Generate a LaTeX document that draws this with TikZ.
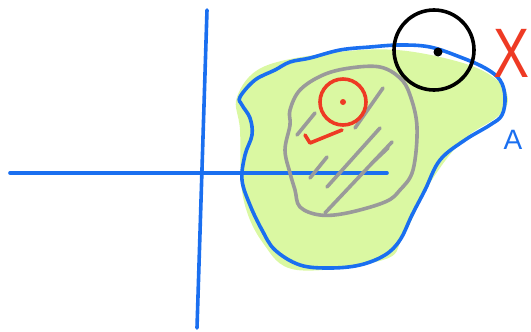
\documentclass[tikz,border=0pt]{standalone}
\usepackage{fontspec}
\usepackage{graphicx}
\setsansfont{Liberation Sans}
\definecolor{penblue}{HTML}{1A6FF0}
\definecolor{pengreen}{HTML}{DAF8A2}
\definecolor{penred}{HTML}{EE3A24}
\definecolor{pengray}{HTML}{9A9A9A}
\tikzset{
  pen/.style={line width=3.6pt, line cap=round, line join=round},
  bluepen/.style={pen, draw=penblue},
  graypen/.style={pen, draw=pengray},
  redpen/.style={pen, draw=penred},
  blackpen/.style={pen, draw=black},
}
\begin{document}
\begin{tikzpicture}[x=1pt,y=-1pt]
\useasboundingbox (0,0) rectangle (531,332);
% green fill
\fill[pengreen] plot[smooth cycle, tension=0.6] coordinates {
 (237,97) (263,67) (330,53) (397,50) (463,63) (497,80) (508,100) (497,117)
 (463,140) (430,183) (403,237) (383,260) (297,270) (263,243) (243,197) (240,130)};
% axes
\coordinate (vt) at (207,10); \coordinate (vb) at (197,328);
\coordinate (hl) at (10,173); \coordinate (hr) at (387,173);
\draw[bluepen] (vt) -- (vb);
\draw[bluepen] (hl) -- (hr);
% blue outline A
\draw[bluepen] plot[smooth cycle, tension=0.6] coordinates {
 (240,97) (255,80) (275,70) (290,62) (310,58) (340,50) (370,47) (400,45)
 (430,47) (460,57) (485,68) (500,80) (505,97) (502,115) (490,125) (465,140)
 (440,160) (425,190) (412,215) (400,240) (385,255) (360,265) (330,268)
 (300,265) (275,250) (262,230) (250,205) (242,180) (245,155) (252,135)
 (250,118) (242,105)};
% gray blob
\draw[graypen] plot[smooth cycle, tension=0.6] coordinates {
 (300,90) (323,75) (350,68) (380,67) (400,78) (410,95) (417,127) (413,170)
 (400,190) (385,202) (347,213) (320,215) (300,207) (295,190) (290,173)
 (285,150) (290,125) (290,110)};
% hatching
\draw[graypen] (383,88) -- (355,128);
\draw[graypen] (315,113) -- (297,135);
\draw[graypen] (327,157) -- (310,178);
\draw[graypen] (380,128) -- (327,187);
\draw[graypen] (392,142) -- (325,213);
\draw[graypen] (388,148) -- (372,163);
% red circle and tick
\node[circle, draw=penred, line width=3.6pt, minimum size=46pt, inner sep=0pt] (rc) at (343,102) {};
\fill[penred] (rc.center) circle (3pt);
\coordinate (t1) at (305,135); \coordinate (t2) at (310,143); \coordinate (t3) at (342,130);
\draw[redpen] (t1) -- (t2) -- (t3);
% black circle
\node[circle, draw=black, line width=3.6pt, minimum size=80pt, inner sep=0pt] (bc) at (434,50) {};
\fill[black] (438,52) circle (4.5pt);
% labels
\node[inner sep=0pt, text=penred, font=\sffamily\fontsize{40}{40}\selectfont] (X) at (512,53) {\scalebox{1.35}[1.75]{X}};
\node[inner sep=0pt, text=penblue, font=\sffamily\fontsize{28}{28}\selectfont] (A) at (513,140) {A};
\end{tikzpicture}
\end{document}
